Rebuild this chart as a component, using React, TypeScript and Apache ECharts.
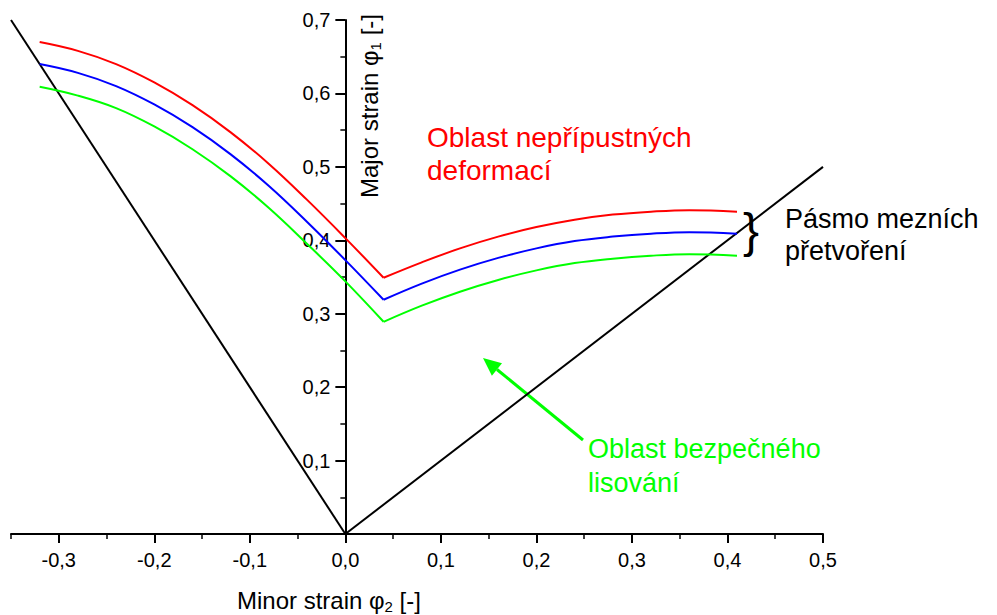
import React, { useEffect, useRef } from 'react';
import * as echarts from 'echarts';

const FONT = '"Liberation Sans", Arial, Helvetica, sans-serif';

// Forming limit curves: left branch (negative minor strain up to the kink) and right branch
const leftX = [-0.32, -0.28, -0.24, -0.20, -0.16, -0.12, -0.08, -0.04, 0, 0.04];
const redLeftY = [0.670, 0.658, 0.640, 0.615, 0.584, 0.547, 0.504, 0.455, 0.403, 0.349];
const blueLeftY = [0.640, 0.628, 0.610, 0.585, 0.554, 0.517, 0.474, 0.425, 0.373, 0.319];
const greenLeftY = [0.609, 0.597, 0.580, 0.555, 0.524, 0.487, 0.444, 0.395, 0.344, 0.289];

const rightX = [0.04, 0.08, 0.12, 0.16, 0.20, 0.24, 0.28, 0.32, 0.36, 0.41];
const redRightY = [0.349, 0.370, 0.389, 0.405, 0.418, 0.428, 0.435, 0.439, 0.441, 0.439];
const blueRightY = [0.319, 0.341, 0.360, 0.376, 0.389, 0.399, 0.405, 0.409, 0.411, 0.409];
const greenRightY = [0.289, 0.311, 0.330, 0.346, 0.359, 0.369, 0.375, 0.379, 0.381, 0.379];

// Boundary lines (strain paths)
const boundLeftX = [-0.35, 0];
const boundLeftY = [0.7, 0];
const boundRightX = [0, 0.5];
const boundRightY = [0, 0.5];

const xRange = [-0.35, 0.5];
const yRange = [0, 0.7];

const zip = (xs: number[], ys: number[]) => xs.map((x, i) => [x, ys[i]]);
const fmt = (v: number) => v.toFixed(1).replace('.', ',');

const GRID_LEFT = 11;

export default function App() {
  const ref = useRef<HTMLDivElement>(null);
  useEffect(() => {
    if (!ref.current) return;
    const chart = echarts.init(ref.current, null, { renderer: 'svg', width: 997, height: 615 });
    const black = '#000000';
    const curve = (data: number[][], color: string) => ({
      type: 'line',
      data,
      smooth: 0.4,
      symbol: 'none',
      xAxisIndex: 0,
      yAxisIndex: 0,
      lineStyle: { color, width: 2 },
      z: 3,
    });
    const straight = (data: number[][]) => ({
      type: 'line',
      data,
      symbol: 'none',
      xAxisIndex: 0,
      yAxisIndex: 0,
      lineStyle: { color: black, width: 2 },
      z: 2,
    });
    chart.setOption({
      animation: false,
      backgroundColor: '#ffffff',
      grid: { left: GRID_LEFT, right: 174, top: 20, bottom: 81, containLabel: false, outerBoundsMode: 'none' },
      xAxis: [
        {
          type: 'value',
          min: xRange[0],
          max: xRange[1],
          splitNumber: 8,
          position: 'bottom',
          axisLine: { show: true, onZero: false, lineStyle: { color: black, width: 2 } },
          axisTick: { show: true, inside: false, length: 9, lineStyle: { color: black, width: 2 } },
          axisLabel: {
            showMinLabel: false,
            margin: 16,
            fontSize: 20,
            color: black,
            fontFamily: FONT,
            formatter: fmt,
          },
          splitLine: { show: false },
        },
        {
          type: 'value',
          min: xRange[0],
          max: xRange[1],
          interval: 0.05,
          position: 'bottom',
          axisLine: { show: false, onZero: false },
          axisTick: { show: true, inside: false, length: 5, lineStyle: { color: black, width: 1.5 } },
          axisLabel: { show: false },
          splitLine: { show: false },
        },
      ],
      yAxis: {
        type: 'value',
        min: yRange[0],
        max: yRange[1],
        interval: 0.1,
        position: 'left',
        offset: 0,
        axisLine: { show: true, onZero: false, lineStyle: { color: black, width: 2 } },
        axisTick: { show: true, inside: false, length: 10, lineStyle: { color: black, width: 2 } },
        minorTick: { show: true, splitNumber: 2, length: 5, lineStyle: { color: black, width: 1.5 } },
        axisLabel: {
          margin: 15,
          fontSize: 20,
          color: black,
          fontFamily: FONT,
          formatter: (v: number) => (v === 0 ? '' : fmt(v)),
        },
        splitLine: { show: false },
        minorSplitLine: { show: false },
      },
      series: [
        straight(zip(boundLeftX, boundLeftY)),
        straight(zip(boundRightX, boundRightY)),
        curve(zip(leftX, redLeftY), '#ff0000'),
        curve(zip(rightX, redRightY), '#ff0000'),
        curve(zip(leftX, blueLeftY), '#0000ff'),
        curve(zip(rightX, blueRightY), '#0000ff'),
        curve(zip(leftX, greenLeftY), '#00ff00'),
        curve(zip(rightX, greenRightY), '#00ff00'),
      ],
      graphic: [
        {
          type: 'text',
          x: 237,
          y: 600,
          style: {
            text: '{a|Minor strain φ}{s|2}{a| [-]}',
            align: 'left',
            verticalAlign: 'middle',
            rich: {
              a: { fontSize: 24, fontFamily: FONT, fill: black, lineHeight: 30 },
              s: { fontSize: 15, fontFamily: FONT, fill: black, lineHeight: 30, padding: [12, 0, 0, 0] },
            },
          },
        },
        {
          type: 'text',
          x: 369,
          y: 106,
          rotation: Math.PI / 2,
          style: {
            text: '{a|Major strain φ}{s|1}{a| [-]}',
            align: 'center',
            verticalAlign: 'middle',
            rich: {
              a: { fontSize: 24, fontFamily: FONT, fill: black, lineHeight: 30 },
              s: { fontSize: 15, fontFamily: FONT, fill: black, lineHeight: 30, padding: [12, 0, 0, 0] },
            },
          },
        },
        {
          type: 'text',
          x: 427,
          y: 121,
          style: {
            text: 'Oblast nepřípustných\ndeformací',
            fontSize: 28,
            lineHeight: 33,
            fontFamily: FONT,
            fill: '#ff0000',
            align: 'left',
            verticalAlign: 'top',
          },
        },
        {
          type: 'text',
          x: 785,
          y: 203,
          style: {
            text: 'Pásmo mezních\npřetvoření',
            fontSize: 27,
            lineHeight: 32,
            fontFamily: FONT,
            fill: black,
            align: 'left',
            verticalAlign: 'top',
          },
        },
        {
          type: 'text',
          x: 588,
          y: 432,
          style: {
            text: 'Oblast bezpečného\nlisování',
            fontSize: 27,
            lineHeight: 34,
            fontFamily: FONT,
            fill: '#00ff00',
            align: 'left',
            verticalAlign: 'top',
          },
        },
        {
          type: 'text',
          x: 743,
          y: 206,
          style: {
            text: '}',
            fontSize: 48,
            lineHeight: 48,
            fontFamily: FONT,
            fill: black,
            align: 'left',
            verticalAlign: 'top',
          },
        },
        {
          type: 'line',
          shape: { x1: 583, y1: 440, x2: 497, y2: 369.5 },
          style: { stroke: '#00ff00', lineWidth: 3 },
        },
        {
          type: 'polygon',
          shape: { points: [[483, 358], [502, 363.2], [491.9, 375.7]] },
          style: { fill: '#00ff00' },
        },
      ],
    });
    // place the vertical axis on the x = 0 line, using the x scale
    const zeroPx = chart.convertToPixel({ xAxisIndex: 0 }, 0) as number;
    if (typeof zeroPx === 'number' && isFinite(zeroPx)) {
      chart.setOption({ yAxis: { offset: -(zeroPx - GRID_LEFT) } });
    }
    return () => chart.dispose();
  }, []);
  return (
    <div
      ref={ref}
      style={{ position: 'absolute', left: 0, top: 0, width: 997, height: 615, background: '#ffffff' }}
    />
  );
}
